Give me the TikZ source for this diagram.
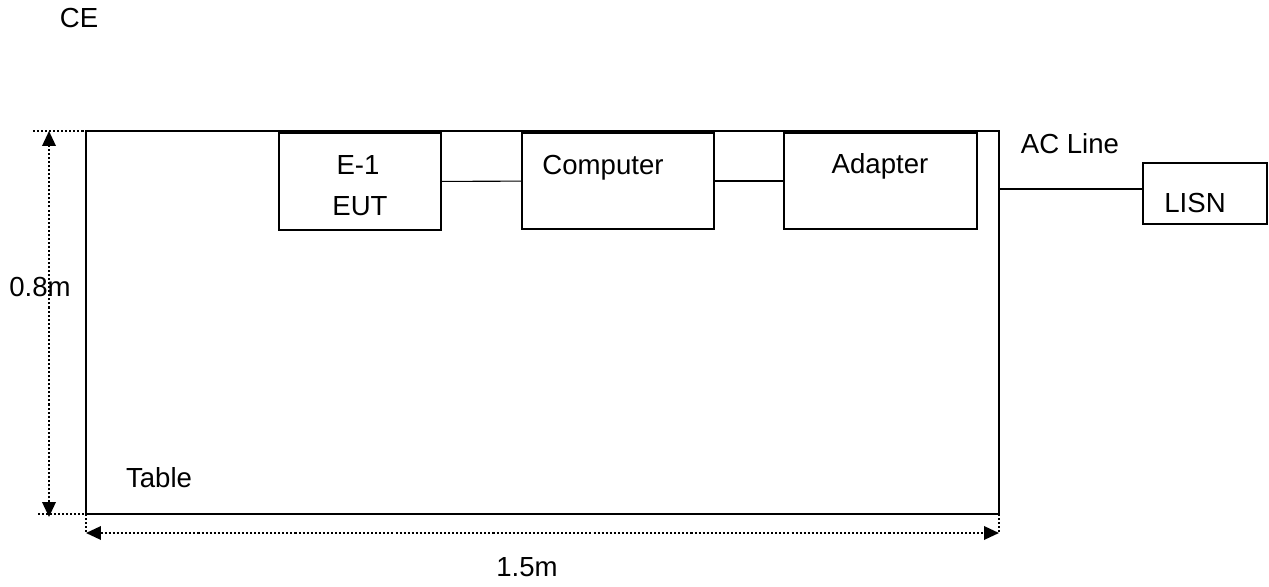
\documentclass[tikz,border=0pt]{standalone}
\usepackage{fontspec}
\setmainfont{Liberation Sans}
\usetikzlibrary{arrows.meta}

\tikzset{
  unitbox/.style 2 args={draw, line width=0.85pt, inner sep=0pt,
    minimum width=#1, minimum height=#2},
  lbl/.style={anchor=base, inner sep=0pt, font=\fontsize{15.7}{19}\selectfont},
  cable/.style={line width=0.6pt},
  dimline/.style={dash pattern=on 1.15pt off 1.15pt, line width=1.1pt},
  dimarrow/.style={dimline,
    {Triangle[length=0.3cm,width=0.27cm]}-{Triangle[length=0.3cm,width=0.27cm]}},
}

\begin{document}
\begin{tikzpicture}[x=0.02cm, y=-0.02cm]
  \useasboundingbox (0,0) rectangle (1269,587);

  % Table
  \coordinate (tl) at (86,131);
  \coordinate (br) at (999,514);
  \draw[line width=1.1pt] (tl) rectangle (br);
  \node[lbl] (tablename) at (159,488) {Table};

  % Units on the table
  \node[unitbox={3.24cm}{1.94cm}] (eut) at (360,181.5) {};
  \node[unitbox={3.84cm}{1.92cm}] (computer) at (618,181) {};
  \node[unitbox={3.86cm}{1.92cm}] (adapter) at (880.5,181) {};
  \node[unitbox={2.48cm}{1.22cm}] (lisn) at (1205,193.5) {};

  \node[lbl] (eutname) at (358,175) {E-1};
  \node[lbl] (euttag) at (360,216) {EUT};
  \node[lbl] (computername) at (603,175) {Computer};
  \node[lbl] (adaptername) at (880,174) {Adapter};
  \node[lbl] (lisnname) at (1195,213) {LISN};

  % Cables
  \draw[cable] (eut) -- (computer);
  \draw[cable] (computer) -- (adapter);
  \coordinate (acstart) at (999,189);
  \draw[cable] (acstart) -- (acstart -| lisn.west);
  \node[lbl] (acname) at (1070,154) {AC Line};

  % Dimensions
  \coordinate (topa) at (33,131);
  \coordinate (topb) at (102,131);
  \coordinate (bota) at (38,514);
  \coordinate (botb) at (108,514);
  \draw[dimline] (topa) -- (topb);
  \draw[dimline] (bota) -- (botb);
  \coordinate (hup) at (49,131);
  \coordinate (hdown) at (49,517);
  \draw[dimarrow] (hdown) -- (hup);
  \node[lbl] (heightname) at (40,297) {0.8m};

  \coordinate (wleft) at (86,533);
  \coordinate (wright) at (999,533);
  \draw[dimline] (tl |- br) -- (wleft);
  \draw[dimline] (br) -- (wright);
  \draw[dimarrow] (wleft) -- (wright);
  \node[lbl] (widthname) at (527,577) {1.5m};

  \node[lbl] (title) at (79,28) {CE};
\end{tikzpicture}
\end{document}
